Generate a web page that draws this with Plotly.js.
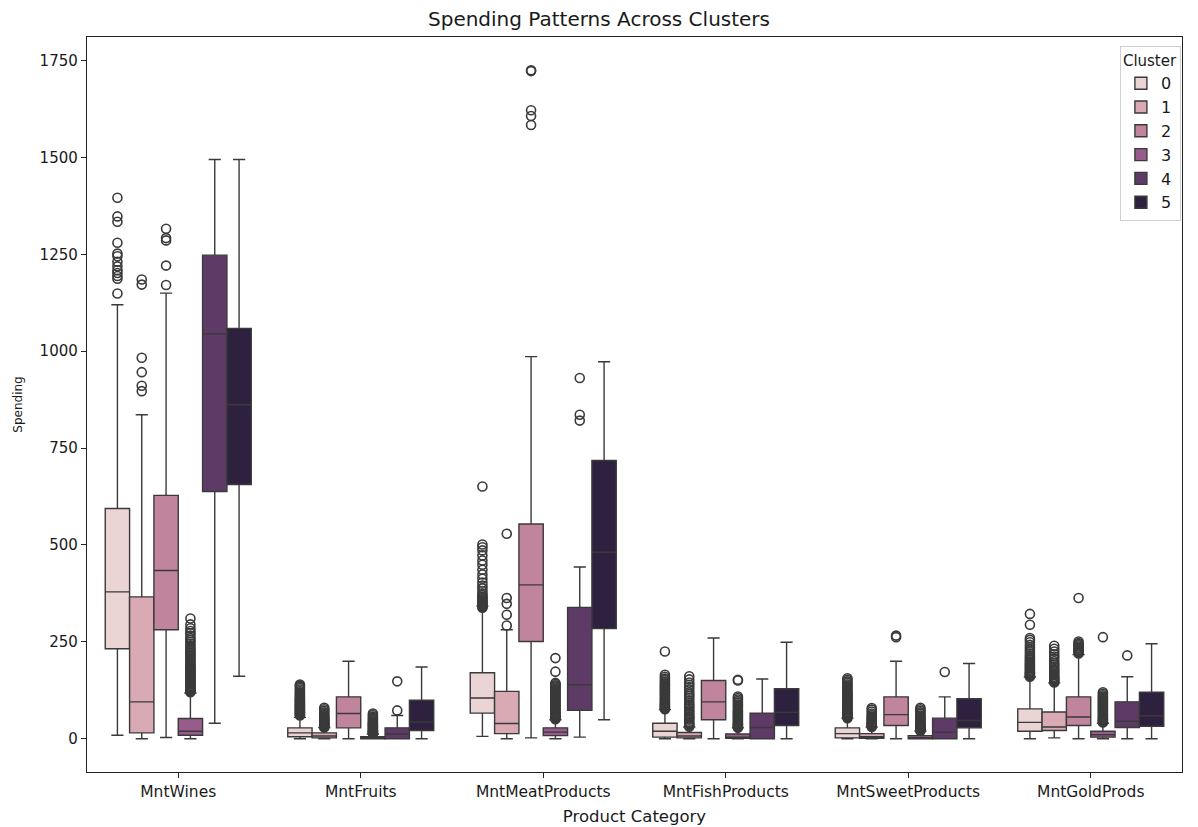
<!DOCTYPE html>
<html>
<head>
<meta charset="utf-8">
<script src="https://cdn.plot.ly/plotly-3.0.1.min.js"></script>
<style>html,body{margin:0;padding:0;background:#fff;}#chart{width:1198px;height:827px;}</style>
</head>
<body>
<div id="chart"></div>
<script>
// ---- data ----
const categories = ['MntWines','MntFruits','MntMeatProducts','MntFishProducts','MntSweetProducts','MntGoldProds'];
const clusters = ['0','1','2','3','4','5'];
const clusterColors = ['#ebd4d4','#d9aab3','#c0859c','#975c8b','#5e3b66','#2e2140'];

// quartiles and whisker ends per cluster (index order = categories)
const q1_c0 = [232, 5, 66, 4, 2, 19];
const med_c0 = [379, 15, 105, 19, 13, 42];
const q3_c0 = [594, 28, 170, 40, 28, 77];
const lo_c0 = [9, 0, 6, 0, 0, 0];
const hi_c0 = [1120, 55, 342, 75, 53, 159];

const q1_c1 = [15, 2, 13, 2, 1, 21];
const med_c1 = [95, 7, 39, 7, 5, 30];
const q3_c1 = [366, 15, 122, 16, 13, 69];
const lo_c1 = [0, 0, 0, 0, 0, 2];
const hi_c1 = [836, 29, 281, 30, 30, 144];

const q1_c2 = [281, 28, 251, 49, 34, 34];
const med_c2 = [434, 65, 397, 95, 62, 56];
const q3_c2 = [628, 108, 554, 150, 108, 108];
const lo_c2 = [3, 0, 2, 0, 0, 0];
const hi_c2 = [1150, 200, 986, 260, 200, 217];

const q1_c3 = [9, 0, 8, 1, 0, 4];
const med_c3 = [19, 2, 17, 4, 2, 10];
const q3_c3 = [52, 5, 28, 12, 8, 19];
const lo_c3 = [0, 0, 0, 0, 0, 0];
const hi_c3 = [118, 12, 49, 28, 20, 40];

const q1_c4 = [638, 0, 73, 0, 0, 29];
const med_c4 = [1045, 12, 139, 29, 17, 45];
const q3_c4 = [1248, 28, 339, 66, 53, 95];
const lo_c4 = [40, 0, 4, 0, 0, 0];
const hi_c4 = [1495, 60, 443, 154, 108, 160];

const q1_c5 = [656, 21, 284, 34, 28, 32];
const med_c5 = [862, 43, 481, 68, 47, 59];
const q3_c5 = [1059, 99, 718, 129, 103, 120];
const lo_c5 = [161, 0, 49, 0, 0, 0];
const hi_c5 = [1495, 185, 973, 249, 194, 245];

// outliers per cluster, one list per category
const out_c0 = [
  [1396, 1348, 1334, 1280, 1252, 1245, 1231, 1219, 1209, 1202, 1194, 1187, 1149],
  [60, 62, 63, 65, 67, 69, 70, 72, 74, 76, 78, 79, 81, 83, 85, 87, 89, 91, 93, 95, 97, 99, 101, 103, 106, 108, 111, 114, 117, 120, 123, 127, 131, 134, 137, 140],
  [338, 340, 342, 344, 346, 349, 351, 354, 357, 360, 363, 366, 370, 375, 381, 388, 395, 403, 413, 424, 436, 449, 460, 473, 486, 494, 501, 651],
  [76, 78, 80, 82, 84, 86, 88, 90, 92, 95, 98, 101, 104, 107, 110, 113, 116, 119, 122, 125, 128, 131, 134, 137, 140, 143, 147, 151, 155, 160, 165, 225],
  [53, 55, 57, 59, 61, 63, 65, 67, 69, 72, 75, 78, 81, 84, 87, 90, 93, 96, 99, 102, 105, 108, 111, 114, 117, 120, 124, 128, 132, 136, 140, 144, 148, 152, 156],
  [160, 162, 164, 166, 168, 170, 172, 175, 178, 181, 184, 187, 190, 193, 196, 199, 203, 207, 211, 215, 220, 225, 230, 236, 242, 249, 255, 260, 294, 322]
];
const out_c1 = [
  [1185, 1172, 983, 946, 911, 897],
  [29, 31, 33, 34, 36, 38, 40, 42, 44, 46, 48, 50, 52, 55, 58, 61, 64, 68, 72, 76, 80],
  [292, 320, 348, 363, 529],
  [31, 34, 37, 40, 44, 49, 52, 55, 58, 62, 66, 70, 74, 79, 84, 88, 93, 99, 105, 110, 115, 120, 127, 133, 139, 145, 153, 161],
  [30, 32, 34, 36, 38, 40, 42, 45, 48, 51, 54, 57, 61, 65, 70, 75, 79],
  [145, 148, 151, 154, 157, 160, 164, 168, 172, 176, 180, 185, 190, 195, 200, 206, 212, 218, 225, 232, 240]
];
const out_c2 = [
  [1316, 1292, 1286, 1221, 1171],
  [],
  [1725, 1723, 1622, 1607, 1584],
  [],
  [262, 266],
  [220, 223, 226, 229, 232, 235, 238, 241, 244, 247, 251, 363]
];
const out_c3 = [
  [120, 122, 124, 126, 128, 130, 133, 136, 139, 142, 145, 148, 151, 154, 157, 160, 163, 166, 169, 172, 175, 178, 181, 184, 187, 190, 194, 198, 202, 206, 210, 214, 218, 222, 226, 230, 235, 240, 245, 250, 255, 260, 266, 272, 278, 285, 295, 310],
  [13, 14, 16, 17, 19, 20, 22, 24, 26, 28, 30, 32, 34, 36, 38, 40, 42, 45, 48, 51, 54, 57, 61, 65],
  [50, 52, 54, 56, 58, 60, 62, 64, 66, 69, 72, 75, 78, 81, 84, 87, 90, 93, 96, 99, 102, 105, 108, 111, 114, 117, 120, 123, 126, 129, 132, 135, 138, 141, 144, 173, 208],
  [28, 30, 32, 34, 36, 38, 40, 43, 46, 49, 52, 55, 58, 61, 64, 67, 70, 73, 77, 81, 85, 89, 93, 97, 101, 105, 109, 150, 152],
  [20, 22, 24, 26, 28, 30, 32, 34, 36, 38, 41, 44, 47, 50, 53, 56, 60, 64, 68, 72, 76, 80],
  [42, 44, 46, 48, 50, 52, 55, 58, 61, 64, 67, 70, 73, 76, 79, 82, 85, 88, 91, 94, 97, 100, 103, 106, 109, 112, 116, 120, 262]
];
const out_c4 = [
  [],
  [73, 148],
  [931, 836, 821],
  [],
  [172],
  [215]
];
const out_c5 = [[], [], [], [], [], []];

const yTicks = [0, 250, 500, 750, 1000, 1250, 1500, 1750];

// ---- build traces ----
const stats = [
  [q1_c0, med_c0, q3_c0, lo_c0, hi_c0, out_c0],
  [q1_c1, med_c1, q3_c1, lo_c1, hi_c1, out_c1],
  [q1_c2, med_c2, q3_c2, lo_c2, hi_c2, out_c2],
  [q1_c3, med_c3, q3_c3, lo_c3, hi_c3, out_c3],
  [q1_c4, med_c4, q3_c4, lo_c4, hi_c4, out_c4],
  [q1_c5, med_c5, q3_c5, lo_c5, hi_c5, out_c5]
];
const nH = clusters.length;
const slot = 0.8 / nH;
const edge = '#3a3a3a';
const traces = [];
stats.forEach((s, h) => {
  const xs = categories.map((_, i) => i + (h - (nH - 1) / 2) * slot);
  traces.push({
    type: 'box',
    name: clusters[h],
    x: xs,
    q1: s[0], median: s[1], q3: s[2], lowerfence: s[3], upperfence: s[4],
    width: slot,
    whiskerwidth: 0.5,
    fillcolor: clusterColors[h],
    line: {color: edge, width: 1.4},
    boxpoints: false,
    hoverinfo: 'skip',
    legendgroup: clusters[h]
  });
  const ox = [], oy = [];
  s[5].forEach((arr, i) => arr.forEach(v => { ox.push(xs[i]); oy.push(v); }));
  traces.push({
    type: 'scatter', mode: 'markers', x: ox, y: oy,
    marker: {symbol: 'circle-open', size: 9, color: edge, line: {width: 1.6, color: '#2a2a2a'}},
    showlegend: false, hoverinfo: 'skip', legendgroup: clusters[h]
  });
});

const layout = {
  width: 1198, height: 827,
  margin: {l: 87, r: 16, t: 37, b: 55},
  paper_bgcolor: '#fff', plot_bgcolor: '#fff',
  font: {family: 'DejaVu Sans, sans-serif', color: '#1a1a1a', size: 15},
  title: {text: 'Spending Patterns Across Clusters', x: 0.5, xanchor: 'center', y: 0.977, yanchor: 'middle', font: {size: 20}},
  showlegend: true,
  legend: {
    title: {text: 'Cluster', font: {size: 15}},
    x: 0.999, xanchor: 'right', y: 0.988, yanchor: 'top',
    bgcolor: 'rgba(255,255,255,0.85)', bordercolor: '#d0d0d0', borderwidth: 1,
    font: {size: 16}, tracegroupgap: 0, itemwidth: 30
  },
  xaxis: {
    type: 'linear', range: [-0.5, 5.5],
    tickmode: 'array', tickvals: categories.map((_, i) => i), ticktext: categories,
    showgrid: false, zeroline: false,
    showline: true, mirror: true, linecolor: '#222', linewidth: 1.2,
    ticks: 'outside', ticklen: 5, tickcolor: '#222',
    tickfont: {size: 15.5},
    title: {text: 'Product Category', font: {size: 16.5}, standoff: 10}
  },
  yaxis: {
    range: [-86, 1811],
    tickmode: 'array', tickvals: yTicks, ticktext: yTicks.map(String),
    showgrid: false, zeroline: false,
    showline: true, mirror: true, linecolor: '#222', linewidth: 1.2,
    ticks: 'outside', ticklen: 5, tickcolor: '#222',
    tickfont: {size: 15},
    title: {text: 'Spending', font: {size: 12}, standoff: 14}
  }
};

Plotly.newPlot('chart', traces, layout, {displayModeBar: false, staticPlot: true});
</script>
</body>
</html>
